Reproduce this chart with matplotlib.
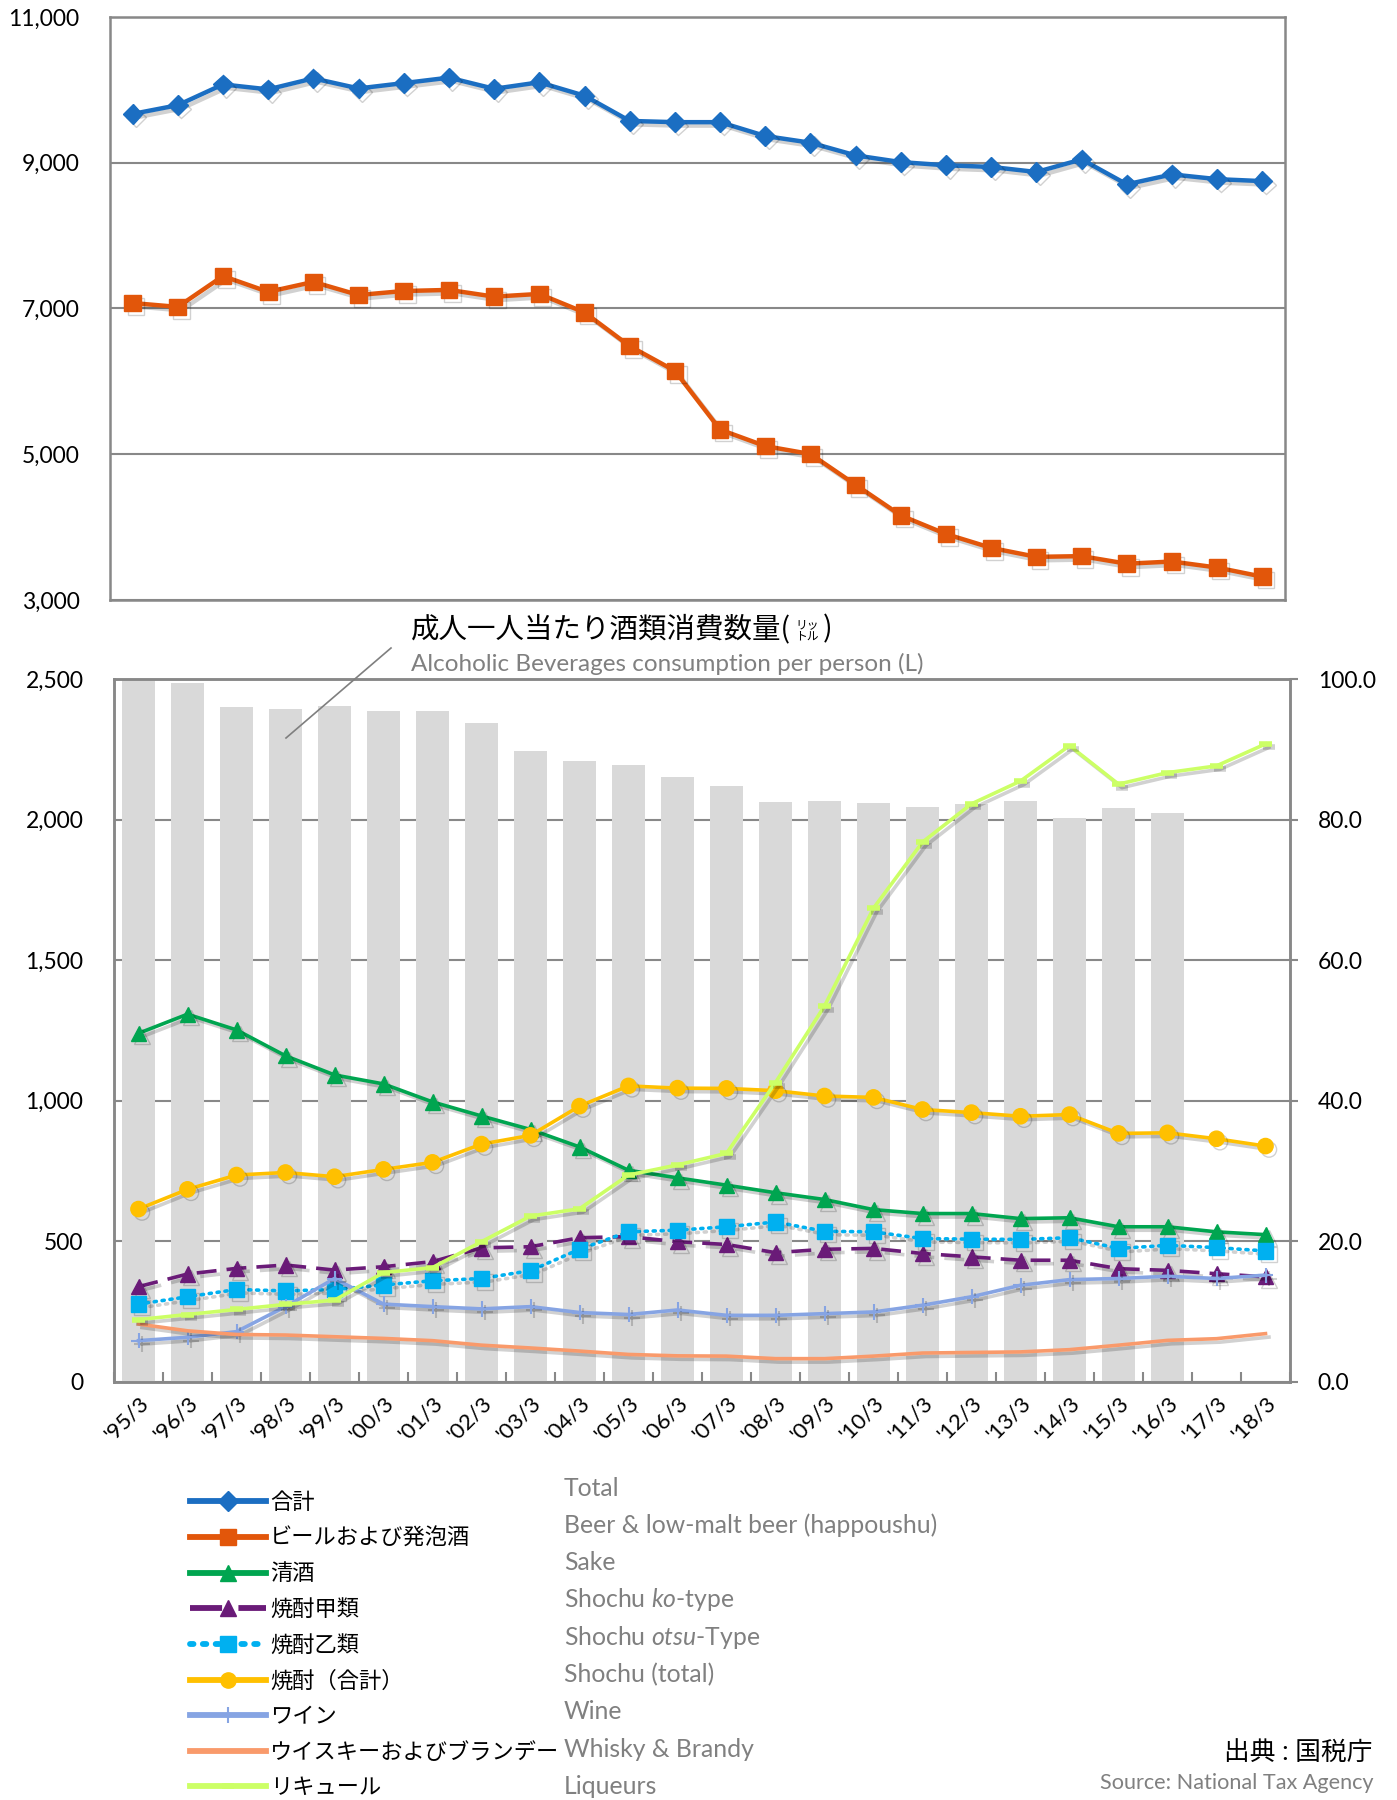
import numpy as np
import matplotlib
matplotlib.use('Agg')
from matplotlib import pyplot as plt
from matplotlib import patheffects as pe
from matplotlib.lines import Line2D

plt.rcParams['font.family'] = ['Lato', 'Noto Sans CJK JP']
plt.rcParams['mathtext.fontset'] = 'custom'
plt.rcParams['mathtext.rm'] = 'Lato'
plt.rcParams['mathtext.it'] = 'Lato:italic'

# --- top chart (thousand kL) ---
top_total = [9670, 9790, 10075, 10007, 10158, 10020, 10093, 10168, 10015, 10104,
             9920, 9574, 9557, 9557, 9367, 9275, 9101, 9009, 8965, 8943,
             8873, 9046, 8704, 8840, 8775, 8748]
top_beer = [7075, 7022, 7445, 7228, 7365, 7185, 7240, 7255, 7163, 7200,
            6946, 6484, 6144, 5338, 5112, 5003, 4580, 4160, 3905, 3715,
            3592, 3602, 3498, 3528, 3445, 3320]

# --- bottom chart ---
years = ["'95/3", "'96/3", "'97/3", "'98/3", "'99/3", "'00/3", "'01/3", "'02/3",
         "'03/3", "'04/3", "'05/3", "'06/3", "'07/3", "'08/3", "'09/3", "'10/3",
         "'11/3", "'12/3", "'13/3", "'14/3", "'15/3", "'16/3", "'17/3", "'18/3"]
per_person = [100.0, 99.4, 96.0, 95.8, 96.1, 95.5, 95.4, 93.8, 89.7, 88.4, 87.8,
              86.1, 84.8, 82.5, 82.6, 82.3, 81.8, 82.2, 82.7, 80.2, 81.6, 80.9]
sake = [1240, 1308, 1252, 1160, 1092, 1060, 996, 946, 898, 836, 753, 726,
        700, 673, 649, 613, 599, 599, 581, 584, 552, 552, 534, 524]
shochu_ko = [339, 384, 404, 416, 398, 410, 428, 477, 481, 513, 517, 499,
             489, 460, 472, 475, 457, 445, 433, 433, 403, 397, 385, 374]
shochu_otsu = [277, 303, 329, 324, 329, 345, 360, 368, 396, 472, 534, 540,
               552, 569, 536, 534, 510, 508, 507, 513, 475, 486, 478, 466]
shochu_total = [615, 685, 736, 745, 730, 756, 781, 846, 877, 981, 1053, 1045,
                1044, 1036, 1017, 1012, 969, 958, 945, 951, 884, 886, 865, 839]
wine = [147, 159, 179, 268, 368, 277, 268, 260, 268, 247, 240, 256,
        237, 237, 243, 249, 273, 303, 344, 364, 368, 376, 368, 380]
whisky = [206, 182, 169, 167, 161, 155, 147, 131, 121, 110, 98, 93,
          92, 83, 83, 92, 103, 105, 107, 115, 131, 148, 154, 172]
liqueur = [222, 240, 258, 276, 291, 389, 407, 499, 590, 616, 736, 772,
           813, 1065, 1337, 1685, 1920, 2056, 2137, 2263, 2126, 2167, 2191, 2269]

labels_ja = ['合計', 'ビールおよび発泡酒', '清酒', '焼酎甲類', '焼酎乙類',
             '焼酎（合計）', 'ワイン', 'ウイスキーおよびブランデー', 'リキュール']
labels_en = ['Total', 'Beer & low-malt beer (happoushu)', 'Sake',
             r'Shochu $\mathit{ko}$-type', r'Shochu $\mathit{otsu}$-Type',
             'Shochu (total)', 'Wine', 'Whisky & Brandy', 'Liqueurs']

W, H = 1397, 1800
fig = plt.figure(figsize=(W / 100, H / 100), dpi=100)


def box(l, t, r, b):
    return [l / W, 1 - b / H, (r - l) / W, (b - t) / H]


shadow = [pe.SimpleLineShadow(offset=(2.5, -2.5), shadow_color='black', alpha=0.18), pe.Normal()]
grid_c = '#888888'

# top chart
ax_top = fig.add_axes(box(110, 17, 1285, 600))
x_top = np.arange(len(top_total))
l_total, = ax_top.plot(x_top, top_total, color='#1B6EC2', lw=3.2, marker='D', ms=10,
                       path_effects=shadow)
l_beer, = ax_top.plot(x_top, top_beer, color='#E2560A', lw=3.2, marker='s', ms=12,
                      path_effects=shadow)
ax_top.set_xlim(-0.5, len(x_top) - 0.5)
ax_top.set_ylim(3000, 11000)
ax_top.set_yticks(range(3000, 11001, 2000))
ax_top.yaxis.set_major_formatter(lambda v, p: f'{v:,.0f}')
ax_top.set_xticks([])
ax_top.tick_params(axis='y', length=0, pad=22, labelsize=16.5)
ax_top.grid(axis='y', color=grid_c, lw=1.5)
for s in ax_top.spines.values():
    s.set_color(grid_c)
    s.set_linewidth(1.8)

# bottom chart: bars (right axis) + lines (left axis)
ax_bar = fig.add_axes(box(114, 679, 1290, 1382))
ax_ln = ax_bar.twinx()
xb = np.arange(len(years))
ax_bar.bar(np.arange(len(per_person)), per_person, width=0.66, color='#D9D9D9', zorder=2)
ax_bar.set_xlim(-0.5, len(years) - 0.5)
ax_bar.set_ylim(0, 100)
ax_bar.set_yticks(range(0, 101, 20))
ax_bar.yaxis.set_major_formatter(lambda v, p: f'{v:.1f}')
ax_bar.yaxis.tick_right()
ax_bar.grid(axis='y', color=grid_c, lw=1.5)
ax_bar.set_axisbelow(True)
ax_bar.tick_params(axis='y', direction='out', length=6, width=1.5, color=grid_c,
                   pad=14, labelsize=16.5)
ax_bar.set_xticks(xb)
ax_bar.set_xticklabels(years, rotation=45, ha='right', rotation_mode='anchor')
ax_bar.tick_params(axis='x', which='major', length=0, pad=8, labelsize=16)
ax_bar.set_xticks(np.arange(len(years) + 1) - 0.5, minor=True)
ax_bar.tick_params(axis='x', which='minor', direction='in', length=7, width=1.5,
                   color=grid_c)

ax_ln.yaxis.tick_left()
ax_ln.set_ylim(0, 2500)
ax_ln.set_yticks(range(0, 2501, 500))
ax_ln.yaxis.set_major_formatter(lambda v, p: f'{v:,.0f}')
ax_ln.tick_params(axis='y', length=0, pad=22, labelsize=16.5)
for a in (ax_bar, ax_ln):
    for s in a.spines.values():
        s.set_color(grid_c)
        s.set_linewidth(1.8)

lw = 2.6
l_sake, = ax_ln.plot(xb, sake, color='#00A550', lw=lw, marker='^', ms=11, path_effects=shadow)
l_ko, = ax_ln.plot(xb, shochu_ko, color='#6A1B78', lw=lw, ls=(0, (5.5, 2.8)), marker='^', ms=11,
                   path_effects=shadow)
l_otsu, = ax_ln.plot(xb, shochu_otsu, color='#00B0F0', lw=lw, ls=(0, (0.6, 1.6)),
                     dash_capstyle='round', marker='s', ms=11, path_effects=shadow)
l_shochu, = ax_ln.plot(xb, shochu_total, color='#FFC000', lw=lw, marker='o', ms=11,
                       path_effects=shadow)
l_wine, = ax_ln.plot(xb, wine, color='#86A4E3', lw=lw, marker='+', ms=11, mew=1.5,
                     path_effects=shadow)
l_whisky, = ax_ln.plot(xb, whisky, color='#F99A6B', lw=lw, path_effects=shadow)
l_liq, = ax_ln.plot(xb, liqueur, color='#CCFF66', lw=lw, marker='_', ms=9, mew=4,
                    path_effects=shadow)

# legend
handles = [l_total, l_beer, l_sake, l_ko, l_otsu, l_shochu, l_wine, l_whisky, l_liq]
leg = fig.legend(handles, labels_ja, loc='upper left',
                 bbox_to_anchor=(190 / W, 1 - 1492 / H), numpoints=1,
                 frameon=False, borderpad=0, borderaxespad=0, handlelength=3.4,
                 handletextpad=0.2, labelspacing=0.67, fontsize=16)
for h in leg.legend_handles:
    h.set_linewidth(4.2)
    h.set_path_effects([])
for i, lab in enumerate(labels_en):
    fig.text(564 / W, 1 - (1488 + 37.3 * i) / H, lab, fontsize=17.8, color='#808080',
             va='center')

# per-person annotation
t1 = fig.text(411 / W, 1 - 629 / H, '成人一人当たり酒類消費数量(', fontsize=20.5,
              va='center', family=['Noto Sans CJK JP'])
fig.canvas.draw()
bb = t1.get_window_extent()
fig.text((bb.x1 + 4) / W, 1 - 631 / H, 'リッ', fontsize=8.5, va='bottom',
         family=['Noto Sans CJK JP'])
fig.text((bb.x1 + 4) / W, 1 - 630 / H, 'トル', fontsize=8.5, va='top',
         family=['Noto Sans CJK JP'])
fig.text((bb.x1 + 32) / W, 1 - 629 / H, ')', fontsize=20.5, va='center',
         family=['Noto Sans CJK JP'])
fig.text(411 / W, 1 - 664 / H, 'Alcoholic Beverages consumption per person (L)',
         fontsize=17.5, color='#808080', va='center')
fig.add_artist(Line2D([391 / W, 286 / W], [1 - 648 / H, 1 - 738 / H],
                      transform=fig.transFigure, color='#7F7F7F', lw=1.2))

# source
fig.text(1373 / W, 1 - 1752 / H, '出典 : 国税庁', fontsize=18.5, ha='right', va='center')
fig.text(1374 / W, 1 - 1783 / H, 'Source: National Tax Agency', fontsize=15.6,
         color='#808080', ha='right', va='center')

fig.savefig('out.png', dpi=100)
